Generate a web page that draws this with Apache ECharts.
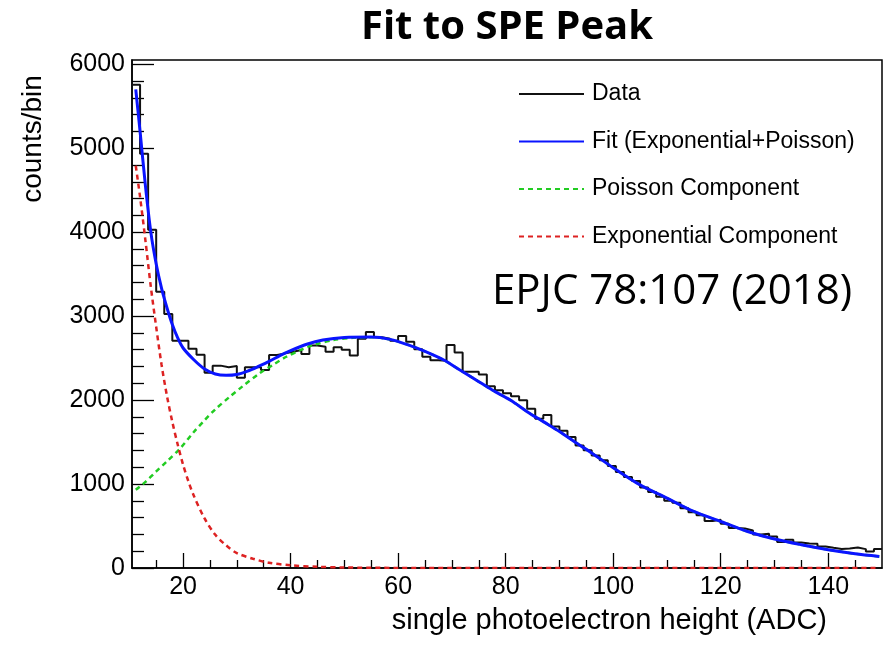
<!DOCTYPE html>
<html><head><meta charset="utf-8">
<script src="https://cdn.jsdelivr.net/npm/echarts@6/dist/echarts.min.js"></script>
<style>html,body{margin:0;padding:0;background:#fff}#c{width:884px;height:648px}</style>
</head><body><div id="c"></div>
<script>
// Histogram binning
const BIN_MIN = 10.5;
const BIN_WIDTH = 1.5;
const X_MAX = 150;
const Y_MAX = 6050;

// Data counts per bin (93 bins from 10.5 to 150)
const DATA_COUNTS = [
  5755, 4934, 4027, 3289, 3024, 2707, 2707, 2610, 2540, 2326,
  2410, 2390, 2405, 2265, 2390, 2390, 2358, 2536, 2556, 2576,
  2596, 2550, 2650, 2635, 2575, 2630, 2600, 2530, 2730, 2810,
  2747, 2730, 2705, 2762, 2695, 2606, 2516, 2473, 2469, 2655,
  2566, 2338, 2338, 2304, 2166, 2116, 2082, 2045, 1997, 1896,
  1778, 1823, 1684, 1635, 1560, 1460, 1403, 1341, 1282, 1215,
  1143, 1085, 1036, 960, 905, 848, 800, 776, 713, 664,
  628, 560, 574, 527, 476, 470, 447, 400, 408, 376,
  310, 336, 304, 292, 289, 257, 240, 225, 232, 245,
  225, 197, 226
];

// Fit (Exponential+Poisson)
const FIT_X = [11.2, 12, 13, 14, 15, 16, 17, 18, 19, 20, 22, 24, 26, 28, 30, 32, 34, 36, 38, 40, 43, 46, 50, 55, 58.5, 62, 65, 68.5, 71.5, 74.5, 77.5, 81, 84, 87, 90, 93, 96, 100, 105, 110, 115, 120, 125, 130, 135, 140, 145, 149.5];
const FIT_Y = [5700, 5200, 4550, 4000, 3620, 3330, 3100, 2900, 2740, 2620, 2480, 2370, 2310, 2295, 2305, 2345, 2400, 2460, 2530, 2590, 2665, 2715, 2745, 2750, 2723, 2655, 2580, 2477, 2358, 2240, 2120, 1995, 1862, 1743, 1625, 1495, 1370, 1195, 990, 832, 673, 554, 435, 345, 277, 218, 170, 138];

// Poisson component
const POIS_X = [11.2, 13, 15, 17, 19.5, 22, 24, 26, 28.7, 31, 34.2, 37, 39.2, 42, 44.2, 48, 51.6, 55, 58.5, 62, 65, 68.5, 71.5, 74.5, 77.5, 81, 84, 87, 90, 93, 96, 100, 105, 110, 115, 120, 125, 130, 135, 140, 145, 149.5];
const POIS_Y = [931, 1025, 1150, 1270, 1427, 1620, 1760, 1890, 2040, 2160, 2318, 2430, 2516, 2600, 2655, 2715, 2742, 2748, 2722, 2655, 2580, 2477, 2358, 2240, 2120, 1995, 1862, 1743, 1625, 1495, 1370, 1195, 990, 832, 673, 554, 435, 345, 277, 218, 170, 138];

// Exponential component
const EXP_X = [11.2, 12, 13, 14, 15, 16, 17, 18, 19, 20, 21, 22, 24, 26, 28, 30, 33, 36, 40, 45, 50, 60, 80, 100, 120, 149.5];
const EXP_Y = [4790, 4420, 3900, 3350, 2870, 2420, 2050, 1740, 1470, 1230, 1030, 860, 590, 395, 270, 178, 110, 62, 32, 14, 6, 1, 0, 0, 0, 0];

// Tick values
const X_MAJOR_TICKS = [20, 40, 60, 80, 100, 120, 140];
const X_MINOR_TICKS = [15, 25, 30, 35, 45, 50, 55, 65, 70, 75, 85, 90, 95, 105, 110, 115, 125, 130, 135, 145];
const Y_MAJOR_TICKS = [0, 1000, 2000, 3000, 4000, 5000, 6000];
const Y_MINOR_TICKS = [200, 400, 600, 800, 1200, 1400, 1600, 1800, 2200, 2400, 2600, 2800, 3200, 3400, 3600, 3800, 4200, 4400, 4600, 4800, 5200, 5400, 5600, 5800];

const histData = DATA_COUNTS.map((v, i) => [BIN_MIN + i * BIN_WIDTH, v]);
histData.push([X_MAX, DATA_COUNTS[DATA_COUNTS.length - 1]]);
const zip = (xs, ys) => xs.map((x, i) => [x, ys[i]]);

const FONT = 'Liberation Sans, Arial, sans-serif';
const tickLine = {color: '#000', width: 1.3};

const chart = echarts.init(document.getElementById('c'), null, {renderer: 'canvas'});
chart.setOption({
  animation: false,
  backgroundColor: '#fff',
  grid: {left: 132, top: 60, width: 750, height: 508, show: true, borderColor: '#000', borderWidth: 1.5, backgroundColor: 'transparent'},
  legend: {
    orient: 'vertical', left: 513, top: 77,
    itemWidth: 65, itemHeight: 24, itemGap: 23.5,
    itemStyle: {opacity: 0},
    textStyle: {fontFamily: FONT, fontSize: 23, color: '#000', lineHeight: 24, padding: [0, 0, 0, 3]},
    data: ['Data', 'Fit (Exponential+Poisson)', 'Poisson Component', 'Exponential Component']
  },
  xAxis: [
    {type: 'value', min: BIN_MIN, max: X_MAX, position: 'bottom',
     axisLine: {lineStyle: {color: '#000', width: 1.5}},
     axisTick: {inside: true, length: 15, customValues: X_MAJOR_TICKS, lineStyle: tickLine},
     axisLabel: {customValues: X_MAJOR_TICKS, fontFamily: FONT, fontSize: 25, color: '#000', margin: 7, formatter: v => String(v)},
     splitLine: {show: false}},
    {type: 'value', min: BIN_MIN, max: X_MAX, position: 'bottom',
     axisLine: {show: false},
     axisTick: {inside: true, length: 8, customValues: X_MINOR_TICKS, lineStyle: tickLine},
     axisLabel: {show: false}, splitLine: {show: false}}
  ],
  yAxis: [
    {type: 'value', min: 0, max: Y_MAX, position: 'left',
     axisLine: {show: true, lineStyle: {color: '#000', width: 1.5}},
     axisTick: {show: true, inside: true, length: 22, customValues: Y_MAJOR_TICKS, lineStyle: tickLine},
     axisLabel: {customValues: Y_MAJOR_TICKS, fontFamily: FONT, fontSize: 25, color: '#000', margin: 7, formatter: v => String(v)},
     splitLine: {show: false}},
    {type: 'value', min: 0, max: Y_MAX, position: 'left',
     axisLine: {show: false},
     axisTick: {show: true, inside: true, length: 12, customValues: Y_MINOR_TICKS, lineStyle: tickLine},
     axisLabel: {show: false}, splitLine: {show: false}}
  ],
  series: [
    {name: 'Data', type: 'line', step: 'end', data: histData, symbol: 'none', z: 3,
     lineStyle: {color: '#111', width: 2}, itemStyle: {color: '#111'}},
    {name: 'Fit (Exponential+Poisson)', type: 'line', smooth: 0.3, data: zip(FIT_X, FIT_Y), symbol: 'none', z: 6,
     lineStyle: {color: '#0a14ff', width: 3}, itemStyle: {color: '#0a14ff'}},
    {name: 'Poisson Component', type: 'line', smooth: 0.3, data: zip(POIS_X, POIS_Y), symbol: 'none', z: 4,
     lineStyle: {color: '#22cc22', width: 2.5, type: [5, 4]}, itemStyle: {color: '#22cc22'}},
    {name: 'Exponential Component', type: 'line', smooth: 0.3, data: zip(EXP_X, EXP_Y), symbol: 'none', z: 5,
     lineStyle: {color: '#dd2222', width: 2.5, type: [5, 4]}, itemStyle: {color: '#dd2222'}}
  ],
  graphic: [
    {type: 'text', x: 507, y: 28, style: {text: 'Fit to SPE Peak', font: 'bold 40px "Open Sans", sans-serif', fill: '#000', textAlign: 'center', textVerticalAlign: 'middle'}},
    {type: 'text', x: 492, y: 292, z: 10, style: {text: 'EPJC 78:107 (2018)', font: '42px "Open Sans", sans-serif', fill: '#000', textAlign: 'left', textVerticalAlign: 'middle'}},
    {type: 'text', x: 33, y: 139, rotation: Math.PI / 2, style: {text: 'counts/bin', font: '28px "Liberation Sans", Arial, sans-serif', fill: '#000', textAlign: 'center', textVerticalAlign: 'middle'}},
    {type: 'text', x: 827, y: 621, style: {text: 'single photoelectron height (ADC)', font: '29px "Liberation Sans", Arial, sans-serif', fill: '#000', textAlign: 'right', textVerticalAlign: 'middle'}}
  ]
});
</script>
</body></html>
